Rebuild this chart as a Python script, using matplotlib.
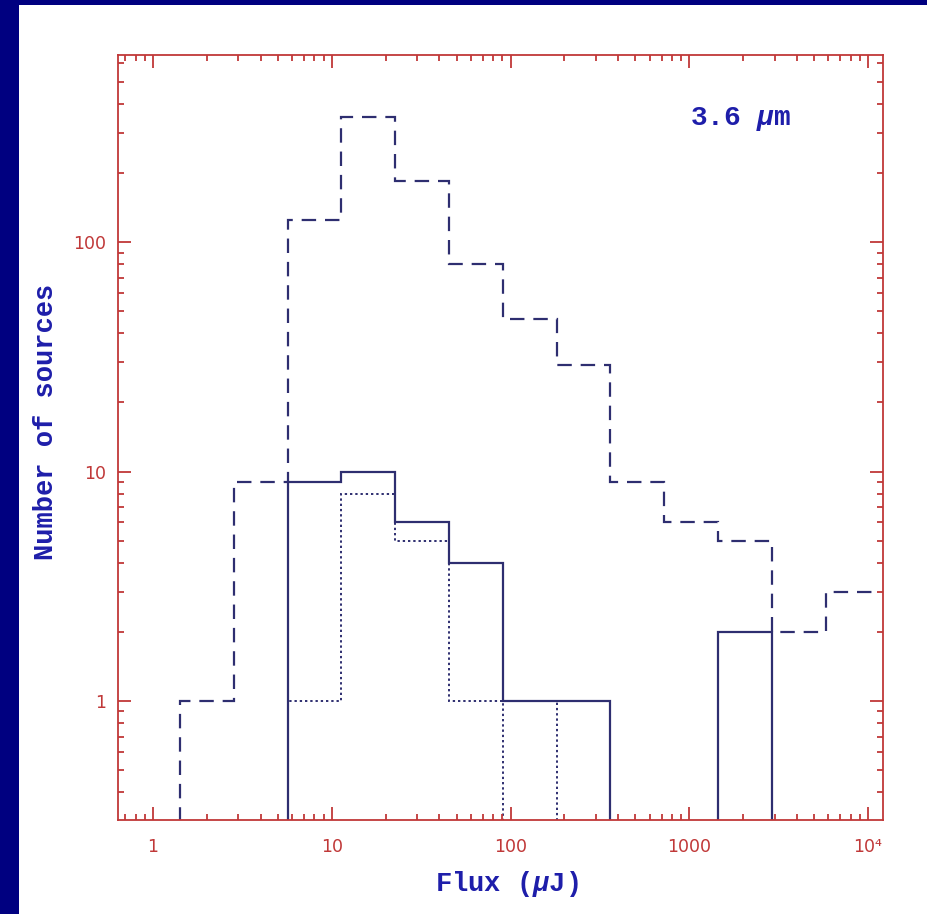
import numpy as np
import matplotlib
matplotlib.use('Agg')
import matplotlib.pyplot as plt
from matplotlib.patches import Rectangle
from matplotlib.ticker import LogLocator, FixedLocator, FixedFormatter, NullFormatter

# slab-serif look for the axis labels, mu in italic
plt.rcParams['mathtext.fontset'] = 'custom'
plt.rcParams['mathtext.rm'] = 'Liberation Mono:bold'
plt.rcParams['mathtext.it'] = 'Liberation Mono:italic:bold'

# bin edges in flux (uJy), factor-2 spacing
bin_edges = [0.71, 1.41, 2.83, 5.66, 11.3, 22.6, 45.3, 90.5, 181, 362, 724, 1448, 2896, 5793, 11585]

# counts per bin
all_sources = [0, 1, 9, 125, 350, 185, 80, 46, 29, 9, 6, 5, 2, 3]
solid_counts = [0, 0, 0, 9, 10, 6, 4, 1, 1, 0, 0, 2, 0, 0]
dotted_counts = [0, 0, 0, 1, 8, 5, 1, 0, 1, 0, 0, 0, 0, 0]

x_ticks = [1, 10, 100, 1000, 10000]
x_tick_labels = ['1', '10', '100', '1000', '10\u2074']
y_ticks = [1, 10, 100]
y_tick_labels = ['1', '10', '100']

frame_red = '#c03838'
line_col = '#2e2e70'
label_blue = '#1e1eaa'
label_font = 'Liberation Mono'

fig = plt.figure(figsize=(9.28, 9.14), dpi=100)
fig.patch.set_facecolor('white')
# navy border on left and top
fig.patches.append(Rectangle((0, 0), 19 / 928, 1, transform=fig.transFigure,
                             facecolor='#000080', edgecolor='none', zorder=0))
fig.patches.append(Rectangle((0, 1 - 5 / 914), 1, 5 / 914, transform=fig.transFigure,
                             facecolor='#000080', edgecolor='none', zorder=0))

ax = fig.add_axes([118 / 928, 94 / 914, 765 / 928, 765 / 914])


def floor_zero(vals):
    vals = np.asarray(vals, dtype=float)
    return np.where(vals > 0, vals, 1e-3)


edges = np.array(bin_edges)
ax.stairs(floor_zero(all_sources), edges, baseline=None, color=line_col,
          linewidth=1.6, linestyle=(0, (6.5, 4)))
ax.stairs(floor_zero(dotted_counts), edges, baseline=None, color=line_col,
          linewidth=1.4, linestyle=(0, (1.2, 1.5)))
ax.stairs(floor_zero(solid_counts), edges, baseline=None, color=line_col,
          linewidth=1.6, linestyle='-')

ax.set_xscale('log')
ax.set_yscale('log')
ax.set_xlim(0.637, 12130)
ax.set_ylim(0.303, 653)

for s in ax.spines.values():
    s.set_color(frame_red)
    s.set_linewidth(1.3)

ax.xaxis.set_major_locator(FixedLocator(x_ticks))
ax.xaxis.set_major_formatter(FixedFormatter(x_tick_labels))
ax.yaxis.set_major_locator(FixedLocator(y_ticks))
ax.yaxis.set_major_formatter(FixedFormatter(y_tick_labels))
ax.xaxis.set_minor_locator(LogLocator(base=10, subs=np.arange(2, 10), numticks=20))
ax.yaxis.set_minor_locator(LogLocator(base=10, subs=np.arange(2, 10), numticks=20))
ax.xaxis.set_minor_formatter(NullFormatter())
ax.yaxis.set_minor_formatter(NullFormatter())

ax.tick_params(which='both', direction='in', top=True, right=True, color=frame_red,
               width=1.3, labelcolor=frame_red, labelsize=12.5)
ax.tick_params(which='major', length=9.5)
ax.tick_params(which='minor', length=4.5)
ax.tick_params(axis='x', pad=13)
ax.tick_params(axis='y', pad=8.5)

ax.set_xlabel('Flux ($\\mu$J)', fontsize=19.5, fontweight='bold', color=label_blue,
              family=label_font, labelpad=9, x=0.508)
ax.set_ylabel('Number of sources', fontsize=19.5, fontweight='bold', color=label_blue,
              family=label_font, labelpad=10, y=0.52)

ax.text(0.748, 0.9085, '3.6 $\\mu$m', transform=ax.transAxes, fontsize=20,
        fontweight='bold', color=label_blue, family=label_font, va='baseline')

plt.savefig('out.png', dpi=100)
